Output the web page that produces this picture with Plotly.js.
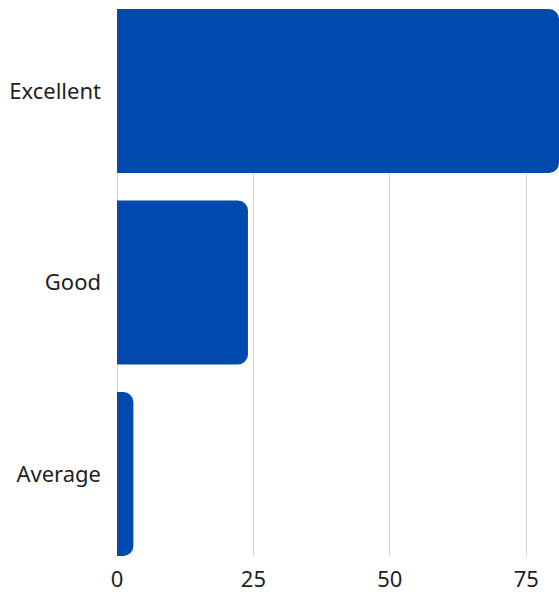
<!DOCTYPE html>
<html>
<head>
<meta charset="utf-8">
<script src="https://cdn.plot.ly/plotly-3.0.1.min.js"></script>
<style>html,body{margin:0;padding:0;background:#fff;}#chart{width:559px;height:592px;}</style>
</head>
<body>
<div id="chart"></div>
<script>
const categories = ["Excellent", "Good", "Average"];
const counts = [81, 24, 3];
const xTicks = [0, 25, 50, 75];

const data = [{
  type: "bar",
  orientation: "h",
  y: categories,
  x: counts,
  marker: {color: "#004aad", cornerradius: 10},
  hoverinfo: "none"
}];

const layout = {
  width: 559, height: 592,
  margin: {l: 117, r: 0, t: 9, b: 36, pad: 0},
  paper_bgcolor: "#ffffff",
  plot_bgcolor: "#ffffff",
  bargap: 0.144,
  showlegend: false,
  font: {family: "Noto Sans, sans-serif", size: 22, color: "#1f1f1f"},
  xaxis: {
    range: [0, 81],
    tickvals: xTicks,
    ticktext: xTicks.map(String),
    showgrid: true, gridcolor: "#d6d6d6", gridwidth: 1,
    zeroline: true, zerolinecolor: "#d6d6d6", zerolinewidth: 1,
    showline: false, ticks: "",
    ticklabelstandoff: 8,
    tickfont: {size: 22, color: "#1f1f1f"},
    fixedrange: true
  },
  yaxis: {
    categoryorder: "array",
    categoryarray: categories,
    range: [2.428, -0.428],
    autorange: false,
    showgrid: false, zeroline: false, showline: false, ticks: "",
    ticklabelstandoff: 15,
    tickfont: {size: 22, color: "#1f1f1f"},
    fixedrange: true
  }
};

Plotly.newPlot("chart", data, layout, {displayModeBar: false, staticPlot: true});
</script>
</body>
</html>
